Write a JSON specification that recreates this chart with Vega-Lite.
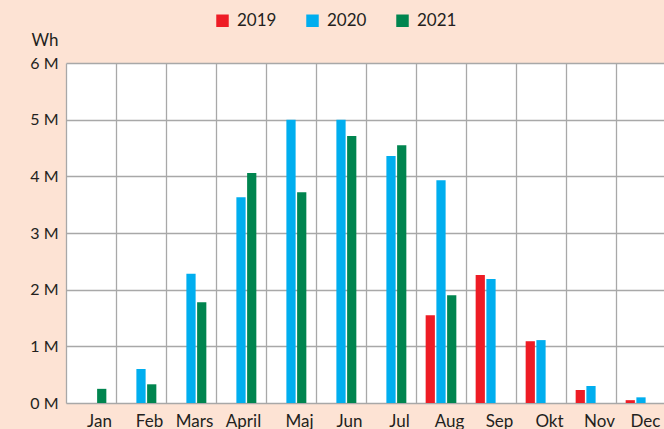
{
  "$schema": "https://vega.github.io/schema/vega-lite/v6.json",
  "autosize": "none",
  "width": 600,
  "height": 340,
  "padding": {"left": 66, "top": 63, "right": 0, "bottom": 26},
  "background": "#fde3d4",
  "view": {"fill": "#ffffff", "stroke": null},
  "config": {
    "font": "Lato",
    "axis": {"labelColor": "#231f20", "titleColor": "#231f20", "labelFont": "Lato", "titleFont": "Lato"},
    "legend": {"labelFont": "Lato"}
  },
  "data": {
    "values": [
      {"month": "Jan", "year": "2021", "value": 250000},
      {"month": "Feb", "year": "2020", "value": 600000},
      {"month": "Feb", "year": "2021", "value": 330000},
      {"month": "Mars", "year": "2020", "value": 2280000},
      {"month": "Mars", "year": "2021", "value": 1780000},
      {"month": "April", "year": "2020", "value": 3630000},
      {"month": "April", "year": "2021", "value": 4060000},
      {"month": "Maj", "year": "2020", "value": 5000000},
      {"month": "Maj", "year": "2021", "value": 3720000},
      {"month": "Jun", "year": "2020", "value": 5000000},
      {"month": "Jun", "year": "2021", "value": 4710000},
      {"month": "Jul", "year": "2020", "value": 4360000},
      {"month": "Jul", "year": "2021", "value": 4550000},
      {"month": "Aug", "year": "2019", "value": 1550000},
      {"month": "Aug", "year": "2020", "value": 3930000},
      {"month": "Aug", "year": "2021", "value": 1900000},
      {"month": "Sep", "year": "2019", "value": 2260000},
      {"month": "Sep", "year": "2020", "value": 2190000},
      {"month": "Okt", "year": "2019", "value": 1090000},
      {"month": "Okt", "year": "2020", "value": 1110000},
      {"month": "Nov", "year": "2019", "value": 230000},
      {"month": "Nov", "year": "2020", "value": 300000},
      {"month": "Dec", "year": "2019", "value": 50000},
      {"month": "Dec", "year": "2020", "value": 100000}
    ]
  },
  "mark": {"type": "bar"},
  "encoding": {
    "x": {
      "field": "month",
      "type": "nominal",
      "sort": ["Jan", "Feb", "Mars", "April", "Maj", "Jun", "Jul", "Aug", "Sep", "Okt", "Nov", "Dec"],
      "scale": {"paddingInner": 0, "paddingOuter": 0},
      "axis": {
        "title": null,
        "labelAngle": 0,
        "labelFontSize": 17,
        "labelPadding": 10,
        "labelOffset": {"condition": [{"test": "datum.value == 'Mars'", "value": 3}, {"test": "datum.value == 'April'", "value": 2}, {"test": "datum.value == 'Dec'", "value": 4}], "value": 8},
        "tickBand": "extent",
        "grid": true,
        "gridColor": "#a8a8a8",
        "gridWidth": 1.3,
        "domain": false,
        "ticks": false
      }
    },
    "xOffset": {
      "field": "year",
      "type": "nominal",
      "scale": {"domain": ["2019", "2020", "2021"], "paddingInner": 0.14, "paddingOuter": 0.9}
    },
    "y": {
      "field": "value",
      "type": "quantitative",
      "scale": {"domain": [0, 6000000], "nice": false},
      "axis": {
        "title": "Wh",
        "titleAngle": 0,
        "titleAlign": "right",
        "titleBaseline": "alphabetic",
        "titleX": -8,
        "titleY": -18,
        "titleFontSize": 17,
        "titleFontWeight": "normal",
        "values": [0, 1000000, 2000000, 3000000, 4000000, 5000000, 6000000],
        "labelExpr": "(datum.value / 1000000) + ' M'",
        "labelFontSize": 16,
        "labelPadding": 8,
        "grid": true,
        "gridColor": "#a8a8a8",
        "gridWidth": 1.3,
        "domain": false,
        "ticks": false
      }
    },
    "color": {
      "field": "year",
      "type": "nominal",
      "scale": {"domain": ["2019", "2020", "2021"], "range": ["#ee1c25", "#00aeef", "#00854f"]},
      "legend": {
        "title": null,
        "orient": "none",
        "direction": "horizontal",
        "legendX": 148,
        "legendY": -51,
        "padding": 0,
        "symbolType": "square",
        "symbolSize": 156,
        "symbolStrokeWidth": 0,
        "symbolOpacity": 1,
        "labelFontSize": 17,
        "labelColor": "#231f20",
        "labelOffset": 6,
        "columnPadding": 27
      }
    }
  }
}
